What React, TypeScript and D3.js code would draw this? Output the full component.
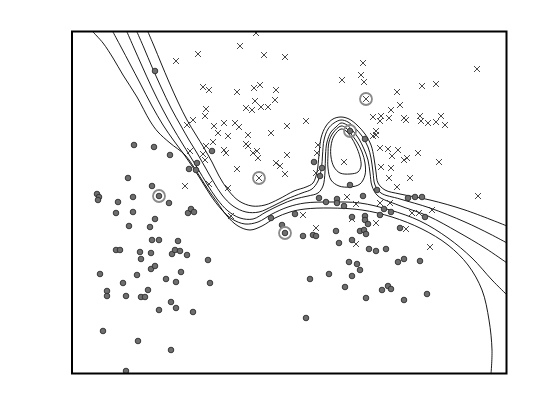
import { useRef, useEffect } from "react";
import * as d3 from "d3";

type Pt = [number, number];

// class +1 samples (drawn as x)
const crosses: Pt[] = [
  [183, 341], [167, 328], [125, 320], [103, 313], [191, 319], [212, 317], [290, 311], [404, 305],
  [288, 299], [291, 292], [269, 294], [130, 287], [136, 284], [164, 282], [181, 286], [187, 289],
  [203, 284], [324, 282], [349, 288], [363, 290], [293, 275], [202, 274], [182, 273], [173, 266],
  [179, 264], [188, 267], [195, 267], [133, 265], [132, 258], [120, 254], [114, 249], [141, 248],
  [145, 241], [151, 251], [162, 251], [166, 247], [155, 238], [175, 239], [198, 241], [214, 248],
  [233, 253], [318, 264], [327, 269], [300, 257], [308, 258], [307, 253], [316, 256], [331, 256],
  [333, 254], [347, 258], [348, 253], [355, 251], [363, 252], [368, 258], [372, 249], [303, 243],
  [303, 239], [300, 238], [173, 230], [175, 228], [140, 232], [133, 228], [117, 223], [130, 220],
  [132, 214], [151, 224], [153, 221], [180, 221], [184, 223], [185, 216], [214, 219], [203, 211],
  [207, 208], [212, 200], [164, 205], [186, 196], [155, 186], [112, 188], [136, 190], [245, 229],
  [244, 221], [271, 212], [243, 201], [307, 226], [315, 225], [325, 224], [319, 218], [331, 214],
  [334, 216], [345, 221], [366, 212], [308, 207], [318, 206], [316, 196], [337, 196], [324, 187],
  [274, 177], [283, 170], [307, 171], [317, 171], [405, 178], [230, 159], [158, 158], [243, 146],
  [283, 130], [303, 151], [339, 161], [346, 161], [359, 164], [333, 145], [357, 127], [279, 155],
];

// class -1 samples (drawn as filled dots)
const dots: Pt[] = [
  [82, 303], [61, 229], [81, 227], [97, 219], [139, 223], [124, 211], [116, 205], [123, 204],
  [55, 196], [79, 188], [24, 180], [26, 177], [25, 174], [45, 172], [60, 177], [86, 178],
  [96, 171], [43, 161], [60, 162], [115, 161], [118, 165], [121, 162], [82, 155], [56, 148],
  [77, 147], [79, 134], [86, 134], [105, 133], [43, 124], [47, 124], [67, 122], [78, 121],
  [68, 115], [99, 120], [102, 124], [107, 123], [114, 119], [135, 114], [27, 100], [64, 99],
  [78, 105], [82, 108], [108, 102], [93, 95], [103, 92], [137, 91], [50, 91], [34, 83],
  [34, 78], [53, 78], [68, 77], [72, 77], [75, 84], [86, 64], [98, 72], [103, 66],
  [120, 62], [30, 43], [65, 33], [98, 24], [53, 3], [198, 156], [209, 149], [212, 141],
  [230, 138], [222, 160], [240, 139], [243, 138], [263, 143], [266, 131], [279, 134], [279, 157],
  [287, 143], [291, 144], [293, 140], [292, 158], [292, 154], [295, 150], [311, 165], [307, 159],
  [318, 162], [352, 157], [327, 146], [296, 125], [303, 123], [313, 125], [325, 112], [331, 115],
  [347, 113], [276, 112], [284, 110], [287, 104], [279, 98], [256, 100], [237, 95], [272, 87],
  [293, 76], [233, 56], [309, 84], [315, 88], [318, 85], [331, 74], [354, 80], [246, 176],
  [253, 172], [264, 175], [264, 171], [271, 168], [290, 178], [277, 189], [304, 184], [335, 176],
  [342, 177], [349, 177], [241, 212], [249, 206], [247, 198], [277, 243], [292, 235],
];

// highlighted support vectors
const supportVectors: Pt[] = [[293, 275], [186, 196], [86, 178], [212, 141], [277, 243]];

// decision-function level lines, from the -1 side to the +1 side
const level1: Pt[] = [
  [20, 342], [30, 331], [40, 316], [50, 299], [64, 277], [77, 253], [85, 242], [97, 231],
  [112, 219], [124, 202], [134, 186], [144, 172], [154, 158], [165, 148], [177, 144], [189, 148],
  [202, 156], [217, 162], [232, 165], [257, 166], [289, 164], [319, 157], [349, 145], [375, 129],
  [395, 109], [409, 84], [416, 54], [419, 24], [418, 0],
];
const level2: Pt[] = [
  [40, 342], [48, 327], [57, 310], [67, 291], [79, 268], [90, 249], [101, 233], [110, 221],
  [119, 208], [128, 194], [138, 178], [148, 165], [159, 155], [172, 150], [185, 152], [199, 160],
  [215, 167], [232, 171], [257, 172], [287, 171], [317, 164], [347, 153], [375, 136], [399, 116],
  [419, 94], [434, 79],
];
const level3: Pt[] = [
  [54, 342], [61, 326], [69, 308], [79, 286], [90, 264], [100, 246], [109, 231], [117, 218],
  [125, 205], [134, 190], [144, 175], [155, 163], [167, 156], [180, 155], [193, 162], [207, 169],
  [222, 175], [235, 178], [245, 181], [250, 188], [252, 202], [252.5, 219], [254, 232], [258, 242],
  [263, 247], [268, 251], [274, 249], [280, 243], [286, 235], [291, 225], [295, 214], [297, 201],
  [299, 188], [305, 178], [325, 169], [355, 158], [385, 142], [412, 126], [434, 111],
];
const level4: Pt[] = [
  [64, 342], [71, 326], [79, 307], [88, 287], [98, 266], [108, 248], [116, 234], [124, 221],
  [132, 207], [140, 193], [149, 179], [160, 168], [173, 162], [186, 162], [200, 168], [214, 175],
  [229, 181], [239, 185], [245, 193], [248.5, 206], [249.5, 219], [251, 234], [255, 245], [261, 251],
  [268, 254], [275, 252], [282, 246], [289, 238], [295, 227], [298, 216], [300, 202], [302, 189],
  [308, 181], [327, 175], [357, 166], [392, 152], [417, 140], [434, 131],
];
const level5: Pt[] = [
  [75, 342], [81, 328], [88, 311], [96, 292], [105, 272], [114, 254], [123, 239], [131, 226],
  [139, 212], [146, 198], [155, 184], [166, 173], [179, 168], [192, 169], [206, 175], [221, 183],
  [233, 187], [240, 191], [244, 202], [246, 219], [248, 236], [253, 248], [260, 255], [268, 257],
  [276, 255], [284, 249], [292, 240], [298, 229], [301, 216], [303, 202], [305, 191], [312, 184],
  [327, 180], [357, 174], [392, 164], [434, 148],
];
// closed loops around the island
const loopOuter: Pt[] = [
  [268, 248], [273, 246], [278, 240], [284, 232], [289, 222], [292, 211], [292, 199], [287, 190],
  [277, 187], [266, 188], [258, 194], [255, 206], [255, 219], [256, 232], [260, 241],
];
const loopInner: Pt[] = [
  [268, 245], [273, 243], [278, 237], [283, 228], [287, 217], [288, 208], [285, 202], [277, 200],
  [267, 201], [261, 207], [258, 217], [258, 228], [261, 238],
];

export default function App() {
  const svgRef = useRef<SVGSVGElement>(null);

  useEffect(() => {
    const svg = d3.select(svgRef.current);
    svg.selectAll("*").remove();

    const width = 560;
    const height = 420;

    const x = d3.scaleLinear().domain([0, 434]).range([73, 507]);
    const y = d3.scaleLinear().domain([0, 342]).range([374, 32]);

    svg.append("rect").attr("width", width).attr("height", height).attr("fill", "#fff");

    svg.append("clipPath").attr("id", "plotclip")
      .append("rect")
      .attr("x", x(0)).attr("y", y(342))
      .attr("width", x(434) - x(0)).attr("height", y(0) - y(342));

    const g = svg.append("g").attr("clip-path", "url(#plotclip)");

    // level lines
    const open = d3.line<Pt>().x(d => x(d[0])).y(d => y(d[1])).curve(d3.curveCatmullRom.alpha(0.5));
    const closed = d3.line<Pt>().x(d => x(d[0])).y(d => y(d[1])).curve(d3.curveCatmullRomClosed.alpha(0.5));

    g.selectAll("path.lvl")
      .data([level1, level2, level3, level4, level5])
      .join("path")
      .attr("class", "lvl")
      .attr("d", d => open(d))
      .attr("fill", "none")
      .attr("stroke", "#000")
      .attr("stroke-width", 0.9);

    g.selectAll("path.loop")
      .data([loopOuter, loopInner])
      .join("path")
      .attr("class", "loop")
      .attr("d", d => closed(d))
      .attr("fill", "none")
      .attr("stroke", "#000")
      .attr("stroke-width", 0.9);

    // crosses
    const s = 3;
    g.append("g")
      .selectAll("path")
      .data(crosses)
      .join("path")
      .attr("d", d => {
        const cx = x(d[0]), cy = y(d[1]);
        return `M${cx - s},${cy - s}L${cx + s},${cy + s}M${cx - s},${cy + s}L${cx + s},${cy - s}`;
      })
      .attr("stroke", "#333")
      .attr("stroke-width", 0.9)
      .attr("fill", "none");

    // dots
    g.append("g")
      .selectAll("circle")
      .data(dots)
      .join("circle")
      .attr("cx", d => x(d[0]))
      .attr("cy", d => y(d[1]))
      .attr("r", 2.8)
      .attr("fill", "#6e6e6e")
      .attr("stroke", "#2e2e2e")
      .attr("stroke-width", 0.9);

    // support vector rings
    g.append("g")
      .selectAll("circle")
      .data(supportVectors)
      .join("circle")
      .attr("cx", d => x(d[0]))
      .attr("cy", d => y(d[1]))
      .attr("r", 6)
      .attr("fill", "none")
      .attr("stroke", "#8a8a8a")
      .attr("stroke-width", 1.8);

    // frame
    svg.append("rect")
      .attr("x", x(0) - 1)
      .attr("y", y(342) - 0.5)
      .attr("width", x(434) - x(0) + 0.5)
      .attr("height", y(0) - y(342))
      .attr("fill", "none")
      .attr("stroke", "#000")
      .attr("stroke-width", 2);
  }, []);

  return (
    <svg
      ref={svgRef}
      width={560}
      height={420}
      style={{ position: "absolute", left: 0, top: 0, display: "block" }}
    />
  );
}
